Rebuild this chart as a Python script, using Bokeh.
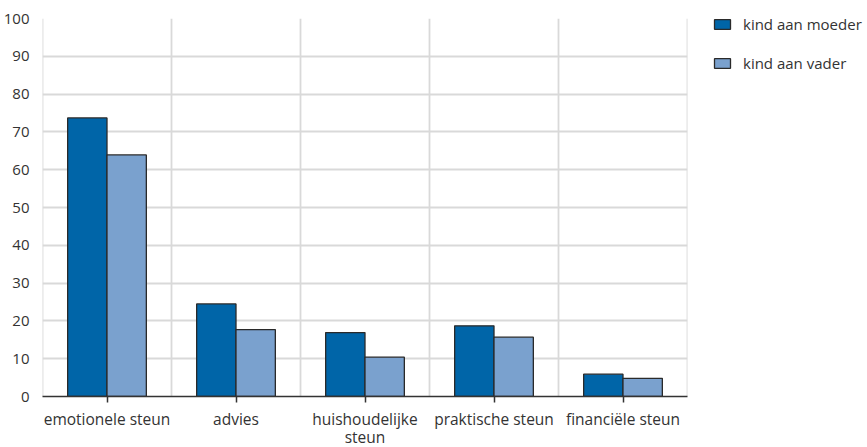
from bokeh.plotting import figure
from bokeh.models import FactorRange, Range1d, FixedTicker, Span, ColumnDataSource, Legend, LegendItem
from bokeh.transform import dodge
from bokeh.embed import file_html
from bokeh.resources import INLINE

categories = ["emotionele steun", "advies", "huishoudelijke\nsteun", "praktische steun", "financiële steun"]
kind_aan_moeder = [73.7, 24.5, 16.9, 18.7, 5.9]
kind_aan_vader = [63.9, 17.7, 10.4, 15.7, 4.8]
series_names = ["kind aan moeder", "kind aan vader"]
y_ticks = [0, 10, 20, 30, 40, 50, 60, 70, 80, 90, 100]

FONT = "Open Sans"
TXT = "#333333"
GRID = "#d9d9d9"
DARK = "#0065a8"
LIGHT = "#7aa1ce"

src = ColumnDataSource(dict(cat=categories, m=kind_aan_moeder, v=kind_aan_vader))

p = figure(x_range=FactorRange(*categories, range_padding=0, factor_padding=0),
           y_range=Range1d(0, 100),
           frame_width=645, frame_height=378, output_backend="svg", toolbar_location=None,
           min_border_left=41, min_border_right=181, min_border_top=18, min_border_bottom=51)
p.title.visible = False
p.outline_line_color = None
p.background_fill_color = "white"
p.border_fill_color = "white"

bw = 0.305
r1 = p.vbar(x=dodge("cat", -bw / 2, range=p.x_range), top="m", width=bw, source=src,
            fill_color=DARK, line_color="#2a2a2a", line_width=1.3)
r2 = p.vbar(x=dodge("cat", bw / 2, range=p.x_range), top="v", width=bw, source=src,
            fill_color=LIGHT, line_color="#2a2a2a", line_width=1.3)

p.xgrid.visible = False
for b in range(len(categories) + 1):
    p.add_layout(Span(location=b, dimension="height", line_color=GRID, line_width=1.8, level="underlay"))

p.ygrid.ticker = FixedTicker(ticks=y_ticks)
p.ygrid.grid_line_color = GRID
p.ygrid.grid_line_width = 1.8
p.ygrid.level = "underlay"

yax = p.yaxis[0]
yax.ticker = FixedTicker(ticks=y_ticks)
yax.axis_line_color = None
yax.major_tick_line_color = None
yax.minor_tick_line_color = None
yax.major_label_standoff = 7
yax.major_label_text_font = FONT
yax.major_label_text_font_size = "15px"
yax.major_label_text_color = TXT

xax = p.xaxis[0]
xax.axis_line_color = "#333333"
xax.axis_line_width = 1.5
xax.major_tick_line_color = "#333333"
xax.major_tick_line_width = 1.5
xax.major_tick_in = 0
xax.major_tick_out = 6
xax.minor_tick_line_color = None
xax.major_label_standoff = 5
xax.major_label_text_font = FONT
xax.major_label_text_font_size = "15.5px"
xax.major_label_text_color = TXT
xax.major_label_text_line_height = 0.82

lg = Legend(items=[LegendItem(label=series_names[0], renderers=[r1]),
                   LegendItem(label=series_names[1], renderers=[r2])],
            location=(25, 323))
lg.padding = 0
lg.margin = 0
lg.spacing = 19
lg.glyph_width = 20
lg.glyph_height = 12
lg.label_height = 12
lg.label_standoff = 11
lg.label_text_font = FONT
lg.label_text_font_size = "15px"
lg.label_text_color = TXT
lg.border_line_color = None
lg.background_fill_alpha = 0
p.add_layout(lg, "right")

open("out.html", "w").write(file_html(p, INLINE))
